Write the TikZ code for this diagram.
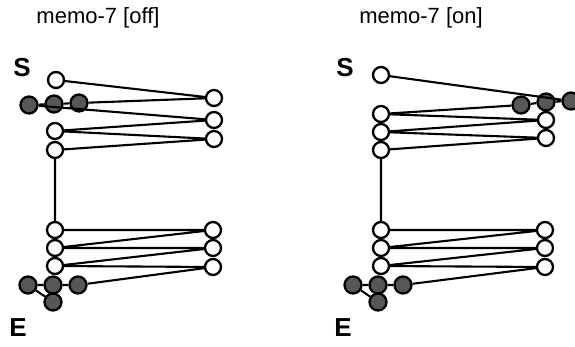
\documentclass[tikz,border=0pt]{standalone}
\usepackage{fontspec}
\setmainfont{Liberation Sans}
\begin{document}
\begin{tikzpicture}[x=1pt,y=-1pt,
  open/.style={circle,draw=black,fill=white,line width=2.3pt,minimum size=16pt,inner sep=0pt},
  full/.style={circle,draw=black,fill=black!66,line width=2.3pt,minimum size=17pt,inner sep=0pt},
  link/.style={line width=2.1pt},
  ttl/.style={font=\fontsize{22}{25}\selectfont},
  lbl/.style={font=\fontsize{26}{28}\selectfont\bfseries}]
\clip (0,0) rectangle (575,347);
% titles
\node[ttl] (t1) at (98,18) {memo-7 [off]};
\node[ttl] (t2) at (421,18) {memo-7 [on]};
\node[lbl] (s1) at (22,68) {S};
\node[lbl] (e1) at (18,328) {E};
\node[lbl] (s2) at (345,68) {S};
\node[lbl] (e2) at (343,328) {E};
% left panel nodes
\node[open] (aS) at (56,80) {};
\node[full] (aF1) at (29,105) {};
\node[full] (aF2) at (54,104) {};
\node[full] (aF3) at (79,103) {};
\node[open] (aR1) at (214,98) {};
\node[open] (aR2) at (214,120) {};
\node[open] (aR3) at (214,139) {};
\node[open] (aL1) at (55,131) {};
\node[open] (aL2) at (55,150) {};
\node[open] (aL3) at (55,230) {};
\node[open] (aL4) at (55,248) {};
\node[open] (aL5) at (55,266) {};
\node[open] (aR4) at (213,230) {};
\node[open] (aR5) at (213,248) {};
\node[open] (aR6) at (213,267) {};
\node[full] (aF4) at (28,285) {};
\node[full] (aF5) at (53,285) {};
\node[full] (aF6) at (78,285) {};
\node[full] (aF7) at (53,302) {};
% right panel nodes
\node[open] (bS) at (381,75) {};
\node[open] (bL1) at (381,114) {};
\node[open] (bL2) at (381,132) {};
\node[open] (bL3) at (381,150) {};
\node[open] (bR2) at (546,120) {};
\node[open] (bR3) at (546,138) {};
\node[full] (bF1) at (521,105) {};
\node[full] (bF2) at (546,102) {};
\node[full] (bF3) at (571,101) {};
\node[open] (bL4) at (381,230) {};
\node[open] (bL5) at (381,248) {};
\node[open] (bL6) at (381,266) {};
\node[open] (bR4) at (545,230) {};
\node[open] (bR5) at (545,248) {};
\node[open] (bR6) at (545,267) {};
\node[full] (bF4) at (353,285) {};
\node[full] (bF5) at (378,285) {};
\node[full] (bF6) at (403,285) {};
\node[full] (bF7) at (378,302) {};
% links
\draw[link] (aS) -- (aR1) -- (aF3) -- (aF2) -- (aF1) -- (aR2) -- (aL1) -- (aR3) -- (aL2) -- (aL3)
  -- (aR4) -- (aL4) -- (aR5) -- (aL5) -- (aR6) -- (aF6) -- (aF5) -- (aF4) -- (aF7);
\draw[link] (bS) -- (bF3) -- (bF2) -- (bF1) -- (bL1) -- (bR2) -- (bL2) -- (bR3) -- (bL3) -- (bL4)
  -- (bR4) -- (bL5) -- (bR5) -- (bL6) -- (bR6) -- (bF6) -- (bF5) -- (bF4) -- (bF7);
\end{tikzpicture}
\end{document}
